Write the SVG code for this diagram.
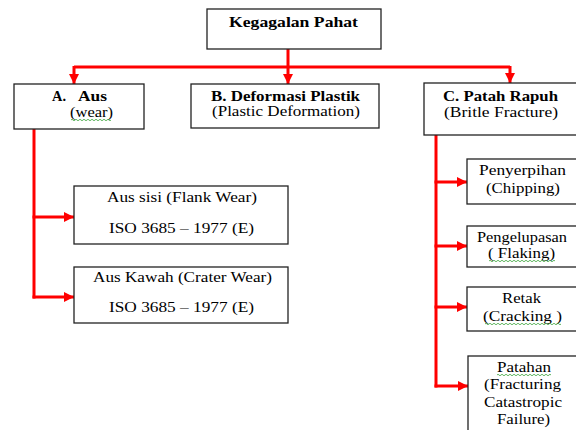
<svg xmlns="http://www.w3.org/2000/svg" width="576" height="430" viewBox="0 0 576 430">
  <style>
    .box { fill: #ffffff; stroke: #222222; stroke-width: 1.3; }
    .t { font-family: 'Liberation Serif', 'DejaVu Serif', serif; font-size: 14px; fill: #000000; }
    .b { font-weight: bold; }
    .c { fill: none; stroke: #ff0000; stroke-width: 3; }
    .sq { fill: none; stroke: #3aa53a; stroke-width: 0.8; }
  </style>
  <defs>
    <marker id="arr" markerUnits="userSpaceOnUse" markerWidth="10" markerHeight="10" refX="10" refY="5" orient="auto">
      <path d="M0,0 L10,5 L0,10 z" fill="#ff0000"/>
    </marker>
  </defs>
  <rect width="576" height="430" fill="#ffffff"/>

  <g id="connectors">
    <path class="c" d="M288,49 V84" marker-end="url(#arr)"/>
    <path class="c" d="M74,67 H510"/>
    <path class="c" d="M74,66 V84" marker-end="url(#arr)"/>
    <path class="c" d="M510,66 V83" marker-end="url(#arr)"/>
    <path class="c" d="M34,129 V298.5"/>
    <path class="c" d="M32.5,217 H74" marker-end="url(#arr)"/>
    <path class="c" d="M32.5,297 H74" marker-end="url(#arr)"/>
    <path class="c" d="M436,135 V387.5"/>
    <path class="c" d="M434.5,182 H467" marker-end="url(#arr)"/>
    <path class="c" d="M434.5,246 H467" marker-end="url(#arr)"/>
    <path class="c" d="M434.5,307 H467" marker-end="url(#arr)"/>
    <path class="c" d="M434.5,386 H468" marker-end="url(#arr)"/>
  </g>

  <g id="root">
    <rect class="box" x="207" y="9" width="174" height="40"/>
    <text class="t b" x="229" y="27" textLength="129" lengthAdjust="spacingAndGlyphs">Kegagalan Pahat</text>
  </g>

  <g id="nodeA">
    <rect class="box" x="14" y="84" width="130" height="45"/>
    <text class="t b" x="52" y="101" textLength="14" lengthAdjust="spacingAndGlyphs">A.</text>
    <text class="t b" x="78" y="101" textLength="29" lengthAdjust="spacingAndGlyphs">Aus</text>
    <text class="t" x="70" y="117" textLength="43" lengthAdjust="spacingAndGlyphs">(wear)</text>
    <path class="sq" d="M71,120 q1,-1.5 2,0 t2,0 t2,0 t2,0 t2,0 t2,0 t2,0 t2,0 t2,0 t2,0 t2,0 t2,0 t2,0 t2,0 t2,0 t2,0 t2,0 t2,0 t2,0 t2,0"/>
  </g>

  <g id="nodeB">
    <rect class="box" x="191" y="84" width="188" height="44"/>
    <text class="t b" x="211" y="101" textLength="149" lengthAdjust="spacingAndGlyphs">B. Deformasi Plastik</text>
    <text class="t" x="212" y="115.5" textLength="148" lengthAdjust="spacingAndGlyphs">(Plastic Deformation)</text>
  </g>

  <g id="nodeC">
    <rect class="box" x="424" y="83" width="160" height="52"/>
    <text class="t b" x="443" y="101" textLength="115" lengthAdjust="spacingAndGlyphs">C. Patah Rapuh</text>
    <text class="t" x="444" y="116.5" textLength="114" lengthAdjust="spacingAndGlyphs">(Britle Fracture)</text>
  </g>

  <g id="flankWear">
    <rect class="box" x="74" y="186" width="214" height="58"/>
    <text class="t" x="107" y="202" textLength="150" lengthAdjust="spacingAndGlyphs">Aus sisi (Flank Wear)</text>
    <text class="t" x="109" y="233" textLength="145" lengthAdjust="spacingAndGlyphs">ISO 3685 – 1977 (E)</text>
  </g>

  <g id="craterWear">
    <rect class="box" x="74" y="267" width="214" height="56"/>
    <text class="t" x="93" y="282" textLength="179" lengthAdjust="spacingAndGlyphs">Aus Kawah (Crater Wear)</text>
    <text class="t" x="109" y="312" textLength="145" lengthAdjust="spacingAndGlyphs">ISO 3685 – 1977 (E)</text>
  </g>

  <g id="chipping">
    <rect class="box" x="467" y="159" width="120" height="45"/>
    <text class="t" x="479" y="175" textLength="87" lengthAdjust="spacingAndGlyphs">Penyerpihan</text>
    <text class="t" x="486" y="193" textLength="74" lengthAdjust="spacingAndGlyphs">(Chipping)</text>
  </g>

  <g id="flaking">
    <rect class="box" x="467" y="226" width="120" height="41"/>
    <text class="t" x="477" y="242" textLength="90" lengthAdjust="spacingAndGlyphs">Pengelupasan</text>
    <text class="t" x="488" y="258" textLength="67" lengthAdjust="spacingAndGlyphs">( Flaking)</text>
    <path class="sq" d="M489,261 q1,-1.5 2,0 t2,0 t2,0 t2,0 t2,0 t2,0 t2,0 t2,0 t2,0 t2,0 t2,0 t2,0 t2,0 t2,0 t2,0 t2,0 t2,0 t2,0 t2,0 t2,0 t2,0 t2,0 t2,0 t2,0 t2,0 t2,0 t2,0 t2,0 t2,0 t2,0 t2,0 t2,0 t2,0"/>
  </g>

  <g id="cracking">
    <rect class="box" x="467" y="287" width="120" height="44"/>
    <text class="t" x="502" y="303" textLength="39" lengthAdjust="spacingAndGlyphs">Retak</text>
    <text class="t" x="483" y="321" textLength="79" lengthAdjust="spacingAndGlyphs">(Cracking )</text>
    <path class="sq" d="M485,324 q1,-1.5 2,0 t2,0 t2,0 t2,0 t2,0 t2,0 t2,0 t2,0 t2,0 t2,0 t2,0 t2,0 t2,0 t2,0 t2,0 t2,0 t2,0 t2,0 t2,0 t2,0 t2,0 t2,0 t2,0 t2,0 t2,0 t2,0 t2,0 t2,0 t2,0 t2,0 t2,0 t2,0 t2,0 t2,0 t2,0 t2,0 t2,0 t2,0"/>
  </g>

  <g id="fracturing">
    <rect class="box" x="468" y="356" width="120" height="84"/>
    <text class="t" x="497" y="372" textLength="54" lengthAdjust="spacingAndGlyphs">Patahan</text>
    <path class="sq" d="M497,375 q1,-1.5 2,0 t2,0 t2,0 t2,0 t2,0 t2,0 t2,0 t2,0 t2,0 t2,0 t2,0 t2,0 t2,0 t2,0 t2,0 t2,0 t2,0 t2,0 t2,0 t2,0 t2,0 t2,0 t2,0 t2,0 t2,0 t2,0 t2,0"/>
    <text class="t" x="484" y="389" textLength="77" lengthAdjust="spacingAndGlyphs">(Fracturing</text>
    <text class="t" x="484" y="406.5" textLength="78" lengthAdjust="spacingAndGlyphs">Catastropic</text>
    <text class="t" x="497" y="424" textLength="53" lengthAdjust="spacingAndGlyphs">Failure)</text>
  </g>
</svg>
